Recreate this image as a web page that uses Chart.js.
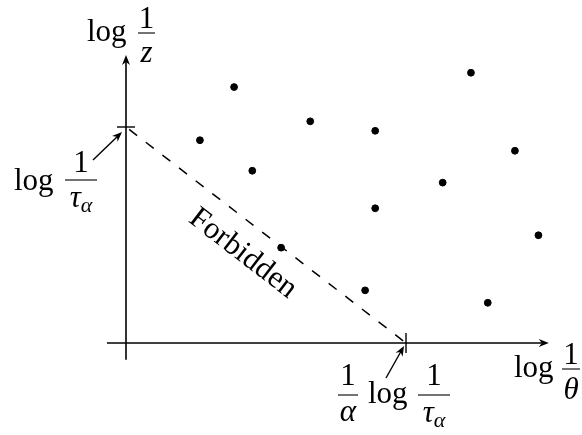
<!DOCTYPE html>
<html>
<head>
<meta charset="utf-8">
<script src="https://cdn.jsdelivr.net/npm/chart.js@4.4.1/dist/chart.umd.min.js"></script>
<style>
  body { margin: 0; background: #fff; }
  canvas { display: block; }
</style>
</head>
<body>
<canvas id="ForbiddenChart" width="582" height="435"></canvas>
<script>
// scattered points (log 1/theta, log 1/z), arbitrary units
const pointX = [3.86, 2.64, 6.58, 8.90, 4.51, 11.31, 8.90, 5.54, 8.54, 12.32, 13.89, 14.73, 12.92];
const pointY = [9.48, 7.51, 8.21, 7.86, 6.38, 5.94, 4.99, 3.53, 1.95, 10.01, 7.12, 3.99, 1.49];

// tick marks: (1/alpha) log 1/tau on x, log 1/tau on y
const tickX = 10;
const tickY = 8;

// extent of the drawn axes
const axisX = [-0.68, 15.1];
const axisY = [-0.62, 10.67];

const SERIF = "'Liberation Serif', serif";
const ROMAN = `31px ${SERIF}`;
const ITALIC = `italic 31px ${SERIF}`;
const SUB = `italic 22px ${SERIF}`;

const arrowHead = (ctx, x1, y1, x2, y2) => {
    const a = Math.atan2(y2 - y1, x2 - x1);
    const len = 10, w = 4;
    ctx.beginPath();
    ctx.moveTo(x2, y2);
    ctx.lineTo(x2 - len * Math.cos(a) + w * Math.sin(a), y2 - len * Math.sin(a) - w * Math.cos(a));
    ctx.lineTo(x2 - 0.7 * len * Math.cos(a), y2 - 0.7 * len * Math.sin(a));
    ctx.lineTo(x2 - len * Math.cos(a) - w * Math.sin(a), y2 - len * Math.sin(a) + w * Math.cos(a));
    ctx.closePath();
    ctx.fill();
}

const arrow = (ctx, x1, y1, x2, y2) => {
    const a = Math.atan2(y2 - y1, x2 - x1);
    ctx.beginPath();
    ctx.moveTo(x1, y1);
    ctx.lineTo(x2 - 6 * Math.cos(a), y2 - 6 * Math.sin(a));
    ctx.stroke();
    arrowHead(ctx, x1, y1, x2, y2);
}

const text = (ctx, s, x, y, font, align) => {
    ctx.font = font;
    ctx.textAlign = align || 'left';
    ctx.fillText(s, x, y);
}

// tau with alpha subscript, centred on cx
const tauAlpha = (ctx, cx, y) => {
    ctx.font = ITALIC;
    const w1 = ctx.measureText('τ').width;
    ctx.font = SUB;
    const w2 = ctx.measureText('α').width;
    const x0 = cx - (w1 + w2) / 2;
    text(ctx, 'τ', x0, y, ITALIC);
    text(ctx, 'α', x0 + w1, y + 5, SUB);
}

const bar = (ctx, x1, x2, y) => {
    ctx.beginPath();
    ctx.moveTo(x1, y);
    ctx.lineTo(x2, y);
    ctx.stroke();
}

const diagram = {
    id: 'diagram',
    afterDatasetsDraw(chart) {
        const ctx = chart.ctx;
        const xs = chart.scales.x, ys = chart.scales.y;
        const ox = xs.getPixelForValue(0), oy = ys.getPixelForValue(0);
        const tx = xs.getPixelForValue(tickX), ty = ys.getPixelForValue(tickY);

        ctx.save();
        ctx.strokeStyle = '#000';
        ctx.fillStyle = '#000';
        ctx.lineWidth = 1.6;

        // axes
        arrow(ctx, xs.getPixelForValue(axisX[0]), oy, xs.getPixelForValue(axisX[1]), oy);
        arrow(ctx, ox, ys.getPixelForValue(axisY[0]), ox, ys.getPixelForValue(axisY[1]));

        // ticks
        ctx.lineWidth = 1.4;
        bar(ctx, ox - 9, ox + 9, ty);
        ctx.beginPath();
        ctx.moveTo(tx, oy - 10);
        ctx.lineTo(tx, oy + 10);
        ctx.stroke();

        // pointers to ticks
        arrow(ctx, 93, 160, ox - 4, ty + 5);
        arrow(ctx, 386, 378, tx - 2, oy + 3);

        ctx.fillStyle = '#000';
        ctx.textBaseline = 'alphabetic';
        ctx.lineWidth = 1.1;

        // y axis label: log 1/z
        text(ctx, 'log', 87, 41, ROMAN);
        bar(ctx, 138, 155, 33);
        text(ctx, '1', 146.5, 28, ROMAN, 'center');
        text(ctx, 'z', 146.5, 62, ITALIC, 'center');

        // x axis label: log 1/theta
        text(ctx, 'log', 514, 377, ROMAN);
        bar(ctx, 562, 580, 369);
        text(ctx, '1', 571, 364, ROMAN, 'center');
        text(ctx, 'θ', 571, 399, ITALIC, 'center');

        // log 1/tau_alpha
        text(ctx, 'log', 14, 190, ROMAN);
        bar(ctx, 65, 97, 180);
        text(ctx, '1', 81, 172, ROMAN, 'center');
        tauAlpha(ctx, 81, 207);

        // (1/alpha) log 1/tau_alpha
        bar(ctx, 338, 358, 395);
        text(ctx, '1', 348, 385, ROMAN, 'center');
        text(ctx, 'α', 348, 421, ITALIC, 'center');
        text(ctx, 'log', 368, 403, ROMAN);
        bar(ctx, 418, 450, 395);
        text(ctx, '1', 434, 385, ROMAN, 'center');
        tauAlpha(ctx, 434, 422);

        // Forbidden, along the dashed line
        const ang = Math.atan2(oy - ty, tx - ox);
        const mx = (ox + tx) / 2, my = (oy + ty) / 2;
        const ux = Math.cos(ang), uy = Math.sin(ang);
        ctx.translate(mx - 7 * ux - 37 * uy, my - 7 * uy + 37 * ux);
        ctx.rotate(ang);
        text(ctx, 'Forbidden', 0, 0, ROMAN, 'center');
        ctx.restore();
    }
};

const ctx = document.getElementById('ForbiddenChart');

const data = {
    datasets: [{
        label: 'points',
        data: pointX.map((x, i) => ({ x: x, y: pointY[i] })),
        backgroundColor: '#000',
        borderColor: '#000',
        pointRadius: 3.4,
        showLine: false,
        clip: false,
    }, {
        label: 'boundary',
        data: [{ x: 0, y: tickY }, { x: tickX, y: 0 }],
        borderColor: '#000',
        borderWidth: 1.5,
        borderDash: [10, 11],
        borderDashOffset: -4,
        pointRadius: 0,
        showLine: true,
        clip: false,
    }]
};

const config = {
    type: 'scatter',
    data: data,
    options: {
        responsive: false,
        animation: false,
        layout: { padding: { left: 14, right: 8, top: 19, bottom: 11 } },
        plugins: { legend: { display: false }, tooltip: { enabled: false } },
        scales: {
            x: { type: 'linear', min: -4, max: 16, display: false },
            y: { type: 'linear', min: -3, max: 12, display: false }
        }
    },
    plugins: [diagram]
};

new Chart(ctx, config);
</script>
</body>
</html>
